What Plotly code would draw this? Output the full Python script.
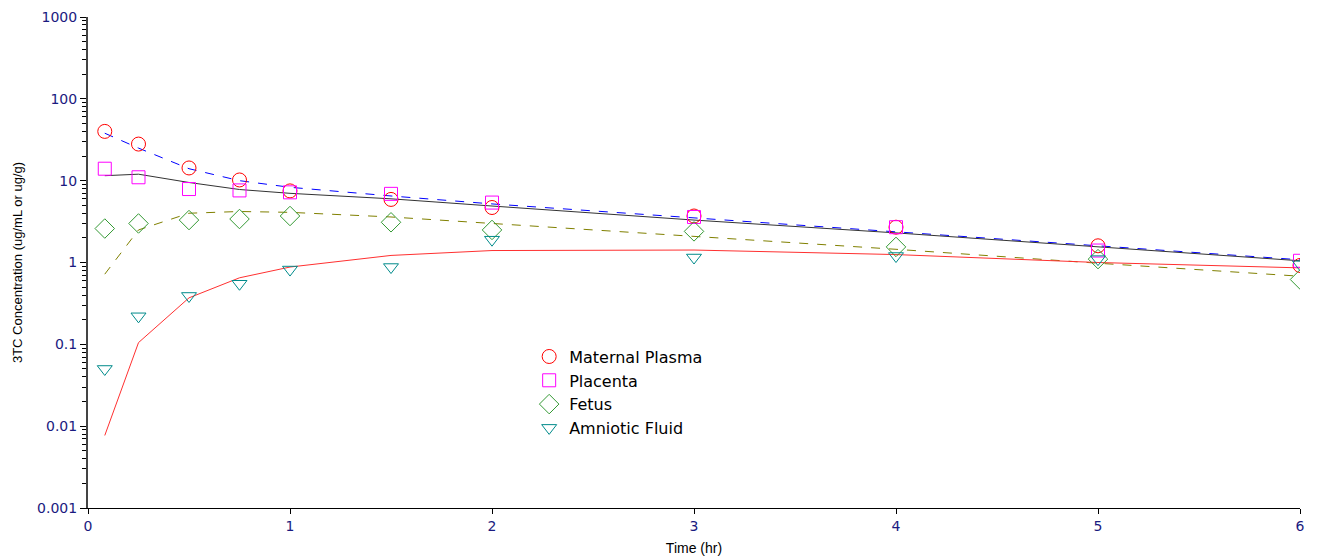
import plotly.graph_objects as go

# Observed data
t_obs = [0.083, 0.25, 0.5, 0.75, 1, 1.5, 2, 3, 4, 5, 6]
maternal_plasma = [40, 28, 14.3, 10.2, 7.5, 5.9, 4.7, 3.7, 2.7, 1.6, 0.92]
placenta = [14, 11, 7.9, 7.6, 7.2, 6.9, 5.4, 3.6, 2.7, 1.4, 1.05]
fetus = [2.6, 3.0, 3.3, 3.4, 3.7, 3.1, 2.5, 2.4, 1.55, 1.1, 0.62]
amniotic_fluid = [0.05, 0.22, 0.39, 0.55, 0.82, 0.88, 1.9, 1.15, 1.2, 1.1, 0.95]

# Model predictions
t_fit = [0.083, 0.25, 0.5, 0.75, 1, 1.5, 2, 3, 4, 5, 6]
fit_maternal = [38, 25, 14, 10, 8.3, 6.5, 5.2, 3.5, 2.4, 1.6, 1.08]
fit_placenta = [11.5, 12, 9.5, 7.8, 7.0, 6.0, 4.9, 3.3, 2.3, 1.55, 1.05]
fit_fetus = [0.72, 2.5, 4.0, 4.2, 4.1, 3.6, 3.0, 2.1, 1.45, 0.98, 0.68]
fit_amniotic = [0.0077, 0.105, 0.37, 0.65, 0.88, 1.22, 1.4, 1.42, 1.25, 1.0, 0.86]

y_tickvals = [0.001, 0.01, 0.1, 1, 10, 100, 1000]
y_ticktext = ["0.001", "0.01", "0.1", "1", "10", "100", "1000"]
x_tickvals = [0, 1, 2, 3, 4, 5, 6]

TICK_FONT = dict(family="DejaVu Sans", size=14, color="#1a1a80")

fig = go.Figure()

# fitted lines
fig.add_trace(go.Scatter(x=t_fit, y=fit_maternal, mode="lines", line=dict(color="#0000ff", width=1, dash="dash"), showlegend=False))
fig.add_trace(go.Scatter(x=t_fit, y=fit_placenta, mode="lines", line=dict(color="#333333", width=1), showlegend=False))
fig.add_trace(go.Scatter(x=t_fit, y=fit_fetus, mode="lines", line=dict(color="#808000", width=1, dash="dash"), showlegend=False))
fig.add_trace(go.Scatter(x=t_fit, y=fit_amniotic, mode="lines", line=dict(color="#ff3030", width=1), showlegend=False))

# observed markers
fig.add_trace(go.Scatter(x=t_obs, y=maternal_plasma, mode="markers", name="Maternal Plasma",
                         marker=dict(symbol="circle-open", size=14, color="#ff0000", line=dict(width=1))))
fig.add_trace(go.Scatter(x=t_obs, y=placenta, mode="markers", name="Placenta",
                         marker=dict(symbol="square-open", size=13, color="#ff00ff", line=dict(width=1))))
fig.add_trace(go.Scatter(x=t_obs, y=fetus, mode="markers", name="Fetus",
                         marker=dict(symbol="diamond-open", size=15, color="#339933", line=dict(width=1))))
fig.add_trace(go.Scatter(x=t_obs, y=amniotic_fluid, mode="markers", name="Amniotic Fluid",
                         marker=dict(symbol="triangle-down-open", size=13, color="#008b8b", line=dict(width=1))))

# page body has an 8px margin, so the figure is sized to fit the 1318x560 window
fig.update_layout(
    width=1310, height=552,
    margin=dict(l=80, r=18, t=9, b=52, autoexpand=False),
    paper_bgcolor="white", plot_bgcolor="white",
    font=dict(family="Arial, Liberation Sans, sans-serif", size=13, color="#000000"),
    legend=dict(x=0.364, y=0.343, xanchor="left", yanchor="top",
                font=dict(family="DejaVu Sans", size=16, color="#000000"), bgcolor="rgba(0,0,0,0)"),
    xaxis=dict(range=[0, 6], tickvals=x_tickvals, showgrid=False, zeroline=False, automargin=False,
               showline=True, linecolor="#000000", linewidth=1,
               ticks="outside", ticklen=5, tickcolor="#000000",
               tickfont=TICK_FONT, ticklabeloverflow="allow",
               title=dict(text="Time (hr)", font=dict(size=14, color="#000000"), standoff=10)),
    yaxis=dict(type="log", range=[-3, 3], tickvals=y_tickvals, ticktext=y_ticktext,
               showgrid=False, zeroline=False, automargin=False,
               showline=True, linecolor="#444444", linewidth=2,
               ticks="outside", ticklen=6, tickcolor="#000000",
               minor=dict(ticks="outside", ticklen=4, tickcolor="#000000", dtick="D1", showgrid=False),
               tickfont=TICK_FONT, ticklabeloverflow="allow",
               title=dict(text="3TC Concentration (ug/mL or ug/g)", font=dict(size=13, color="#000000"), standoff=12)),
)

fig.write_html("out.html")
